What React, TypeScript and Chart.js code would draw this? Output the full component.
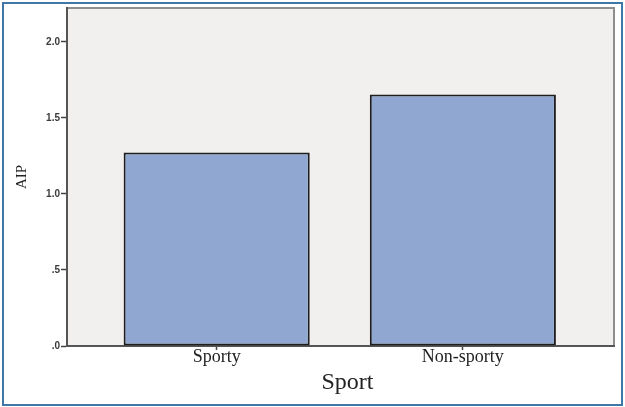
import React, { useEffect, useRef } from 'react';
import { Chart, registerables } from 'chart.js';

Chart.register(...registerables);

const categories = ['Sporty', 'Non-sporty'];
const aipValues = [1.272, 1.653];
const yTickValues = [0, 0.5, 1, 1.5, 2];
const yTickLabels = ['.0', '.5', '1.0', '1.5', '2.0'];
const xTitle = 'Sport';
const yTitle = 'AIP';

const serif = '"Liberation Serif", "Times New Roman", serif';

const plotFrame = {
  id: 'plotFrame',
  beforeDraw(chart: any) {
    const { ctx, chartArea: a } = chart;
    ctx.save();
    ctx.fillStyle = '#f1f0ee';
    ctx.fillRect(a.left, a.top, a.right - a.left, a.bottom - a.top);
    ctx.strokeStyle = '#8e8e8e';
    ctx.lineWidth = 2;
    ctx.beginPath();
    ctx.moveTo(a.left, a.top);
    ctx.lineTo(a.right, a.top);
    ctx.lineTo(a.right, a.bottom);
    ctx.stroke();
    ctx.restore();
  },
  afterDraw(chart: any) {
    // x-axis title, SPSS places it slightly right of the plot centre
    const { ctx, chartArea: a } = chart;
    const xs = chart.scales.x;
    ctx.save();
    ctx.fillStyle = '#222';
    ctx.font = `24px ${serif}`;
    ctx.textAlign = 'center';
    ctx.textBaseline = 'middle';
    ctx.fillText(xTitle, (a.left + a.right) / 2 + 7, xs.bottom - 24);
    ctx.restore();
  },
};

export default function App() {
  const canvasRef = useRef<HTMLCanvasElement | null>(null);

  useEffect(() => {
    const canvas = canvasRef.current;
    if (!canvas) return;
    const chart = new Chart(canvas, {
      type: 'bar',
      data: {
        datasets: [
          {
            label: yTitle,
            data: aipValues.map((v, i) => ({ x: i, y: v })),
            backgroundColor: '#8fa7d1',
            borderColor: '#1e1e1e',
            borderWidth: 2,
            borderSkipped: false,
            categoryPercentage: 1,
            barPercentage: 0.756,
          },
        ],
      },
      options: {
        animation: false,
        responsive: false,
        maintainAspectRatio: false,
        layout: { padding: { top: 8, right: 11, left: 0, bottom: 0 } },
        plugins: {
          legend: { display: false },
          tooltip: { enabled: false },
          title: { display: false },
        },
        scales: {
          x: {
            type: 'linear',
            offset: false,
            min: -0.608,
            max: 1.614,
            grid: {
              display: true,
              offset: false,
              drawOnChartArea: false,
              drawTicks: true,
              tickLength: 4,
              tickWidth: 1.5,
              tickColor: '#444',
            },
            border: { display: true, color: '#555', width: 2 },
            afterBuildTicks: (scale: any) => {
              scale.ticks = categories.map((_, i) => ({ value: i }));
            },
            afterFit: (scale: any) => {
              scale.height = 61;
            },
            ticks: {
              autoSkip: false,
              maxRotation: 0,
              padding: -2,
              color: '#222',
              font: { family: serif, size: 18, lineHeight: 1 },
              callback: (v: any) => categories[Math.round(Number(v))] ?? '',
            },
            title: { display: false },
          },
          y: {
            type: 'linear',
            min: 0,
            max: 2.222,
            grid: {
              display: true,
              drawOnChartArea: false,
              drawTicks: true,
              tickLength: 6,
              tickWidth: 1.5,
              tickColor: '#444',
            },
            border: { display: true, color: '#555', width: 2 },
            afterBuildTicks: (scale: any) => {
              scale.ticks = yTickValues.map((v) => ({ value: v }));
            },
            afterFit: (scale: any) => {
              scale.width = 67;
            },
            ticks: {
              padding: 1,
              color: '#3a3a3a',
              font: { family: '"Liberation Sans", Arial, sans-serif', size: 10, weight: 'bold' },
              callback: (v: any) => {
                const idx = yTickValues.indexOf(Number(v));
                return idx >= 0 ? yTickLabels[idx] : '';
              },
            },
            title: {
              display: true,
              text: yTitle,
              color: '#222',
              font: { family: serif, size: 15, lineHeight: 1.2 },
              padding: { top: 13, bottom: 0 },
            },
          },
        },
      },
      plugins: [plotFrame],
    } as any);
    return () => chart.destroy();
  }, []);

  return (
    <div style={{ position: 'fixed', left: 0, top: 0, width: 625, height: 407, background: '#fff' }}>
      <canvas ref={canvasRef} width={625} height={407} style={{ position: 'absolute', left: 0, top: 0, width: 625, height: 407 }} />
      <div
        style={{
          position: 'absolute',
          left: 2,
          top: 2,
          width: 617,
          height: 400,
          border: '2px solid #3f77a6',
          pointerEvents: 'none',
        }}
      />
    </div>
  );
}
